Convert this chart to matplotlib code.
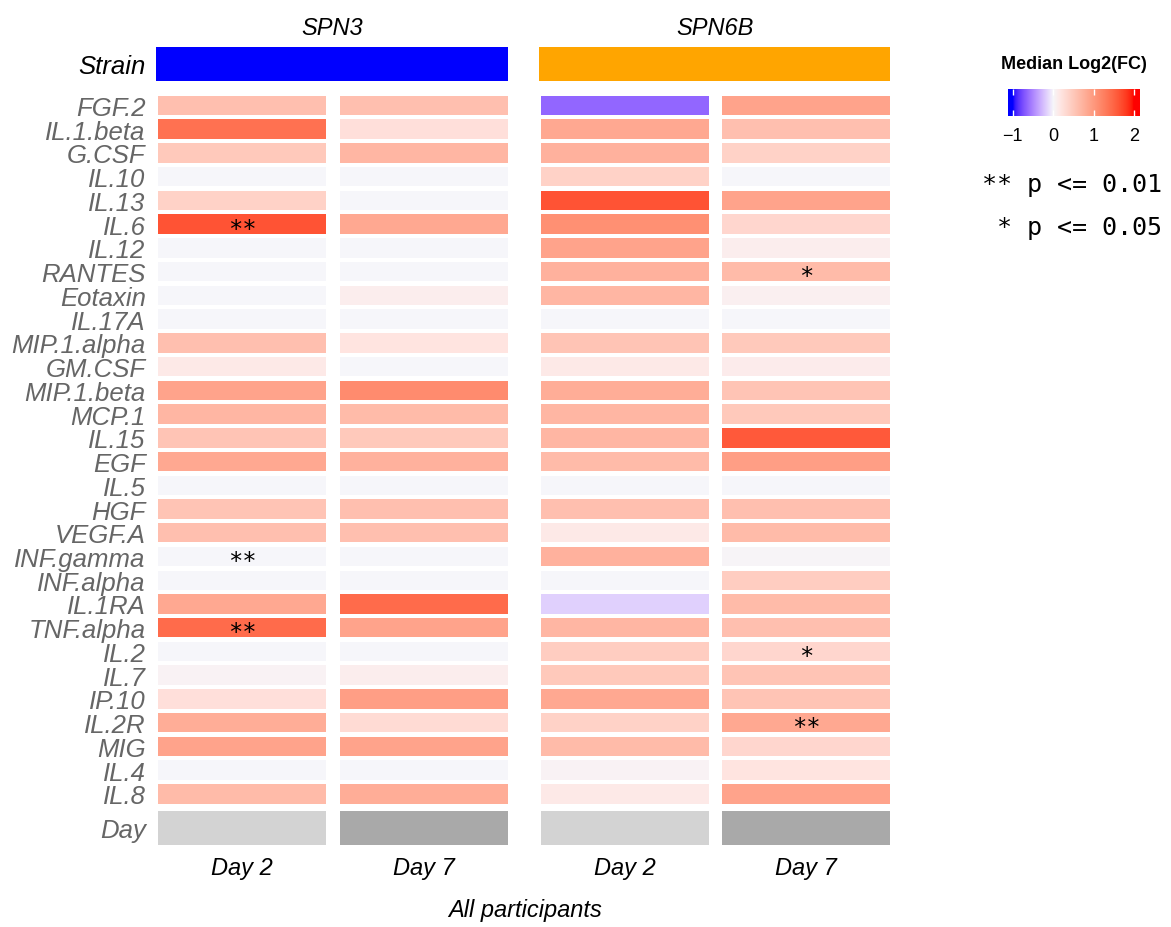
import matplotlib
matplotlib.use("Agg")
import matplotlib.pyplot as plt
import numpy as np
from matplotlib.colors import ListedColormap, Normalize

# cytokines, top to bottom
cytokines = ["FGF.2", "IL.1.beta", "G.CSF", "IL.10", "IL.13", "IL.6", "IL.12",
             "RANTES", "Eotaxin", "IL.17A", "MIP.1.alpha", "GM.CSF", "MIP.1.beta",
             "MCP.1", "IL.15", "EGF", "IL.5", "HGF", "VEGF.A", "INF.gamma",
             "INF.alpha", "IL.1RA", "TNF.alpha", "IL.2", "IL.7", "IP.10", "IL.2R",
             "MIG", "IL.4", "IL.8"]

strains = ["SPN3", "SPN6B"]
days = ["Day 2", "Day 7"]

# median log2(FC) per column: SPN3 day2, SPN3 day7, SPN6B day2, SPN6B day7
spn3_d2 = [0.6, 1.4, 0.5, 0.0, 0.4, 1.65, 0.0, 0.0, 0.0, 0.0, 0.6, 0.15, 0.9,
           0.7, 0.55, 0.85, 0.0, 0.55, 0.6, 0.0, 0.0, 0.85, 1.45, 0.0, 0.05,
           0.25, 0.8, 0.9, 0.0, 0.65]
spn3_d7 = [0.6, 0.25, 0.7, 0.0, 0.0, 0.85, 0.0, 0.0, 0.1, 0.0, 0.2, 0.0, 1.15,
           0.65, 0.5, 0.75, 0.0, 0.6, 0.6, 0.0, 0.0, 1.45, 0.9, 0.0, 0.1,
           0.95, 0.3, 0.9, 0.0, 0.8]
spn6b_d2 = [-0.65, 0.85, 0.75, 0.4, 1.65, 1.1, 0.9, 0.75, 0.7, 0.0, 0.55, 0.15, 0.8,
            0.7, 0.7, 0.65, 0.0, 0.6, 0.15, 0.75, 0.0, -0.17, 0.7, 0.45, 0.5,
            0.85, 0.4, 0.65, 0.05, 0.15]
spn6b_d7 = [0.9, 0.6, 0.4, 0.0, 0.9, 0.35, 0.1, 0.65, 0.08, 0.0, 0.5, 0.12, 0.55,
            0.5, 1.6, 0.95, 0.0, 0.6, 0.65, 0.02, 0.45, 0.65, 0.6, 0.35, 0.55,
            0.55, 0.85, 0.35, 0.2, 0.9]

# significance marks: (row name, column index, label)
stars = [("IL.6", 0, "**"), ("INF.gamma", 0, "**"), ("TNF.alpha", 0, "**"),
         ("RANTES", 3, "*"), ("IL.2", 3, "*"), ("IL.2R", 3, "**")]

columns = [spn3_d2, spn3_d7, spn6b_d2, spn6b_d7]
col_strain = ["SPN3", "SPN3", "SPN6B", "SPN6B"]
col_day = ["Day 2", "Day 7", "Day 2", "Day 7"]


# colour ramp blue - white - red interpolated in LAB (like colorRamp2)
def srgb_to_lab(c):
    c = np.asarray(c, float)
    lin = np.where(c > 0.04045, ((c + 0.055) / 1.055) ** 2.4, c / 12.92)
    M = np.array([[0.4124, 0.3576, 0.1805], [0.2126, 0.7152, 0.0722], [0.0193, 0.1192, 0.9505]])
    xyz = M @ lin / np.array([0.95047, 1.0, 1.08883])
    f = np.where(xyz > (6 / 29) ** 3, np.cbrt(xyz), xyz / (3 * (6 / 29) ** 2) + 4 / 29)
    return np.array([116 * f[1] - 16, 500 * (f[0] - f[1]), 200 * (f[1] - f[2])])


def lab_to_srgb(lab):
    L, a, b = lab[..., 0], lab[..., 1], lab[..., 2]
    fy = (L + 16) / 116
    f = np.stack([fy + a / 500, fy, fy - b / 200], -1)
    xyz = np.where(f > 6 / 29, f ** 3, 3 * (6 / 29) ** 2 * (f - 4 / 29)) * np.array([0.95047, 1.0, 1.08883])
    Minv = np.array([[3.2406, -1.5372, -0.4986], [-0.9689, 1.8758, 0.0415], [0.0557, -0.2040, 1.0570]])
    lin = np.clip(xyz @ Minv.T, 0, 1)
    return np.clip(np.where(lin > 0.0031308, 1.055 * lin ** (1 / 2.4) - 0.055, 12.92 * lin), 0, 1)


breaks = [-1, 0, 2]
anchor_cols = [srgb_to_lab([0, 0, 1]), srgb_to_lab([0.965, 0.965, 0.98]), srgb_to_lab([1, 0, 0])]
vals = np.linspace(-1, 2, 601)
labs = np.stack([np.interp(vals, breaks, [c[i] for c in anchor_cols]) for i in range(3)], -1)
cmap = ListedColormap(lab_to_srgb(labs))
norm = Normalize(-1, 2)

fig = plt.figure(figsize=(11.71, 9.28), dpi=100)

# row positions / layout (units: rows, and column widths)
rows = np.arange(len(cytokines))
col_left = [0.0, 1.077, 2.266, 3.337]
col_w = 0.995
strain_y, day_y, band_h = -1.75, 30.43, 1.43

ax = fig.add_axes([0.1281, 0.0841, 0.6405, 0.8728])
ax.set_xlim(-0.047, 4.39)
ax.set_ylim(31.32, -2.80)

for j, vals_col in enumerate(columns):
    ax.barh(rows, [col_w] * len(rows), left=col_left[j], height=0.82,
            color=cmap(norm(np.array(vals_col))))
    ax.barh(day_y, col_w, left=col_left[j], height=band_h,
            color="#d3d3d3" if col_day[j] == "Day 2" else "#a9a9a9")

strain_colors = {"SPN3": "#0000ff", "SPN6B": "#ffa500"}
for s in strains:
    idx = [j for j in range(4) if col_strain[j] == s]
    x0 = col_left[idx[0]] - 0.012
    x1 = col_left[idx[-1]] + col_w
    ax.barh(strain_y, x1 - x0, left=x0, height=band_h, color=strain_colors[s])
    ax.text((x0 + x1) / 2, -3.3, s, ha="center", va="center", fontsize=17,
            style="italic", family="Liberation Sans", clip_on=False)

for name, j, lab in stars:
    ax.text(col_left[j] + col_w / 2, cytokines.index(name) + 0.2, lab, ha="center",
            va="center", fontsize=17, family="DejaVu Sans Mono")

ax.set_yticks(list(rows) + [strain_y, day_y])
ax.set_yticklabels(cytokines + ["Strain", "Day"], fontsize=18.5, style="italic",
                   family="Liberation Sans", color="#666666")
ax.get_yticklabels()[-2].set_color("black")
ax.set_xticks([c + col_w / 2 for c in col_left])
ax.set_xticklabels(col_day, fontsize=17, style="italic", family="Liberation Sans")
ax.tick_params(length=0, pad=3)
ax.tick_params(axis="x", pad=5)
ax.set_xlabel("All participants", fontsize=17, style="italic",
              family="Liberation Sans", labelpad=14)
for sp in ax.spines.values():
    sp.set_visible(False)

# legend: colour bar
cax = fig.add_axes([0.8608, 0.8739, 0.1127, 0.0291])
grad = np.linspace(-1.12, 2.15, 300)
cax.imshow(grad[None, :], aspect="auto", cmap=cmap, norm=norm,
           extent=[-1.12, 2.15, 0, 1])
cax.set_xlim(-1.12, 2.15)
cax.set_yticks([])
cax.set_xticks([-1, 0, 1, 2])
cax.set_xticklabels(["\u22121", "0", "1", "2"], fontsize=13, family="Liberation Sans")
cax.tick_params(axis="x", direction="in", color="white", length=4, width=1,
                top=True, pad=8)
for sp in cax.spines.values():
    sp.set_visible(False)

fig.text(1074 / 1171, 1 - 65 / 928, "Median Log2(FC)", ha="center", va="center",
         fontsize=13, fontweight="bold", family="Liberation Sans")
fig.text(1162 / 1171, 1 - 185 / 928, "** p <= 0.01", ha="right", va="center",
         fontsize=18, family="DejaVu Sans Mono")
fig.text(1162 / 1171, 1 - 228 / 928, "* p <= 0.05", ha="right", va="center",
         fontsize=18, family="DejaVu Sans Mono")

fig.savefig("out.png", dpi=100)
